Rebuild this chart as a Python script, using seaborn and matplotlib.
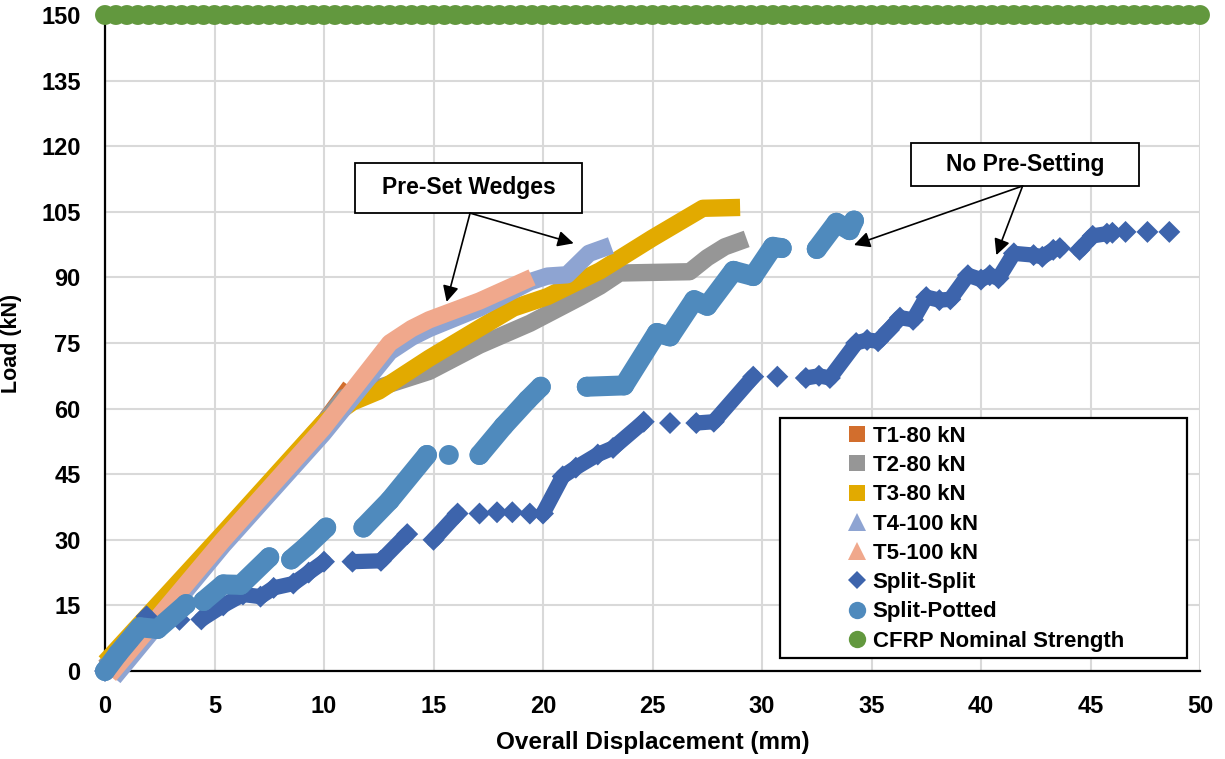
import numpy as np
import pandas as pd
import seaborn as sns
import matplotlib
matplotlib.use("Agg")
import matplotlib.pyplot as plt
from matplotlib.lines import Line2D
from matplotlib.patches import Rectangle

# ---------------- data ----------------
t1_x = [0, 5.4, 9.95, 11.2]
t1_y = [1, 31, 56.5, 65]

t2_x = [0, 5.4, 9.95, 10.9, 12, 14.8, 17.1, 19.4, 21.7, 22.6, 23.5, 26.7, 27.5, 28.3, 29.3]
t2_y = [1, 31, 56.5, 62.5, 64, 68.5, 74.5, 79.5, 85.5, 88, 91, 91.3, 94.5, 97, 98.8]

t3_x = [0, 5.4, 9.95, 11.3, 12.5, 14.8, 17.1, 18.65, 20.2, 22.6, 25, 27.3, 29]
t3_y = [2, 31.5, 56.7, 61.5, 64, 71.5, 78.4, 83, 85.6, 91.5, 99, 105.8, 106]

t4_x = [0.4, 5.4, 9.95, 13, 14, 14.8, 17.1, 19.4, 20.2, 21.1, 22.1, 23.1]
t4_y = [-1.5, 28.8, 54.2, 73, 76.3, 78.3, 83, 89, 90.3, 90.6, 95.5, 97.3]

t5_x = [0.2, 5.4, 9.95, 13, 14, 14.8, 17.1, 19.5]
t5_y = [-1, 30, 55.5, 75, 78.3, 80.3, 84.6, 90]

# Split-Split: segment id groups dense runs of diamonds
ss_seg = [0, 0, 0, 1, 2, 2, 2, 2, 2, 2, 2, 2, 3, 3, 3, 4, 4, 5, 6, 7, 8,
          9, 9, 9, 9, 9, 9, 10, 11, 11, 11, 12,
          13, 13, 13, 13, 13, 13, 13, 13, 13, 13, 13, 13, 13, 13, 13, 13, 13, 13, 13, 13, 13,
          14, 14, 14, 14, 15, 16, 17]
ss_x = [0, 1, 1.9, 3.4, 4.4, 5.4, 6.3, 7.1, 7.7, 8.6, 9.3, 10, 11.3, 12.6, 13.8, 15, 16.1,
        17.1, 17.9, 18.6, 19.4,
        20, 20.9, 21.5, 22.5, 23.2, 24.6, 25.8, 27, 27.8, 29.6, 30.7,
        32, 32.6, 33.1, 34.3, 34.8, 35.3, 35.8, 36.3, 36.9, 37.5, 38.1, 38.6, 39.4, 40, 40.4,
        40.8, 41.5, 42.4, 42.8, 43.3, 43.6,
        44.5, 45.1, 45.75, 46, 46.6, 47.6, 48.6]
ss_y = [0, 6, 12.5, 11.7, 11.8, 15, 17.5, 17, 19, 20, 22.5, 25, 25, 25.2, 31.3, 30, 36,
        36, 36.3, 36.3, 36,
        36, 44.5, 46.5, 49.5, 51, 57, 56.7, 56.7, 57, 67.3, 67.3,
        67, 67.5, 67, 75, 75.7, 75.4, 78, 80.8, 80.3, 85.5, 84.8, 85, 90.5, 89.5, 90.5,
        89.8, 95.5, 95.1, 94.7, 96.3, 96.7,
        96.3, 99.5, 100, 100.2, 100.4, 100.4, 100.4]

# Split-Potted
sp_seg = [0, 0, 0, 0, 0, 1, 1, 1, 1, 2, 2, 2, 3, 3, 3, 4, 5, 5, 5, 5,
          6, 6, 6, 6, 6, 6, 6, 6, 6, 6, 7, 7, 7, 7]
sp_x = [0, 0.6, 1.6, 2.4, 3.7, 4.5, 5.4, 6.2, 7.5, 8.5, 9.2, 10.1, 11.8, 13, 14.7, 15.7,
        17.1, 18.2, 19.3, 19.9,
        22, 23.7, 25.2, 25.8, 26.9, 27.5, 28.7, 29.6, 30.5, 30.9,
        32.5, 33.4, 34, 34.2]
sp_y = [0, 4, 10, 9.6, 15.3, 16, 19.8, 19.7, 26, 25.5, 28.5, 32.8, 32.8, 39, 49.4, 49.4,
        49.4, 56, 62, 65,
        65, 65.3, 77.3, 76.5, 84.8, 83.5, 91.5, 90.3, 97, 96.7,
        96.5, 102.5, 100.8, 103]

cfrp_x = [0, 0.5, 1, 1.5, 2, 2.5, 3, 3.5, 4, 4.5, 5, 5.5, 6, 6.5, 7, 7.5, 8, 8.5, 9, 9.5,
          10, 10.5, 11, 11.5, 12, 12.5, 13, 13.5, 14, 14.5, 15, 15.5, 16, 16.5, 17, 17.5,
          18, 18.5, 19, 19.5, 20, 20.5, 21, 21.5, 22, 22.5, 23, 23.5, 24, 24.5, 25, 25.5,
          26, 26.5, 27, 27.5, 28, 28.5, 29, 29.5, 30, 30.5, 31, 31.5, 32, 32.5, 33, 33.5,
          34, 34.5, 35, 35.5, 36, 36.5, 37, 37.5, 38, 38.5, 39, 39.5, 40, 40.5, 41, 41.5,
          42, 42.5, 43, 43.5, 44, 44.5, 45, 45.5, 46, 46.5, 47, 47.5, 48, 48.5, 49, 49.5, 50]
cfrp_y = [150] * len(cfrp_x)

x_ticks = [0, 5, 10, 15, 20, 25, 30, 35, 40, 45, 50]
y_ticks = [0, 15, 30, 45, 60, 75, 90, 105, 120, 135, 150]

labels = ["T1-80 kN", "T2-80 kN", "T3-80 kN", "T4-100 kN", "T5-100 kN",
          "Split-Split", "Split-Potted", "CFRP Nominal Strength"]
colors = ["#D26E2D", "#969696", "#E2AA00", "#8EA4D2", "#F0A88C",
          "#3D64AC", "#4F8ABD", "#62983E"]

# ---------------- style ----------------
sns.set_theme(style="white")
plt.rcParams["font.family"] = ["Liberation Sans", "DejaVu Sans"]
plt.rcParams["font.weight"] = "bold"
for k in ["text.color", "axes.labelcolor", "xtick.color", "ytick.color"]:
    plt.rcParams[k] = "black"
FS = 16

fig = plt.figure(figsize=(12.25, 7.59), dpi=100)
W, H = 1225, 759
ax = fig.add_axes([105 / W, 1 - 671 / H, 1095 / W, 656 / H])

ax.set_xlim(0, 50)
ax.set_ylim(0, 150)
ax.set_xticks(x_ticks)
ax.set_yticks(y_ticks)
ax.grid(True, color="#D9D9D9", linewidth=1.5, zorder=0)
ax.set_axisbelow(True)
for s in ["top", "right"]:
    ax.spines[s].set_visible(False)
for s in ["left", "bottom"]:
    ax.spines[s].set_color("black")
    ax.spines[s].set_linewidth(1.6)
    ax.spines[s].set_zorder(2)
ax.tick_params(axis="both", direction="inout", length=11, width=1.6, color="black",
               labelcolor="black", labelsize=17)
ax.tick_params(axis="x", pad=12)
ax.tick_params(axis="y", pad=12)
for lab in ax.get_xticklabels() + ax.get_yticklabels():
    lab.set_fontweight("bold")

# ---------------- T series (dense bands of markers) ----------------
t_series = [(t1_x, t1_y), (t2_x, t2_y), (t3_x, t3_y), (t4_x, t4_y), (t5_x, t5_y)]
for i, (xs, ys) in enumerate(t_series):
    df = pd.DataFrame({"x": xs, "y": ys})
    sns.lineplot(data=df, x="x", y="y", ax=ax, sort=False, estimator=None,
                 color=colors[i], linewidth=12.5, solid_capstyle="butt",
                 solid_joinstyle="round", zorder=3 + i * 0.1, clip_on=False,
                 legend=False)

# ---------------- Split-Split ----------------
df_ss = pd.DataFrame({"x": ss_x, "y": ss_y, "seg": ss_seg})
sns.lineplot(data=df_ss, x="x", y="y", units="seg", estimator=None, sort=False, ax=ax,
             color=colors[5], linewidth=11, solid_capstyle="round", zorder=3.6,
             clip_on=False, legend=False)
sns.scatterplot(data=df_ss, x="x", y="y", ax=ax, marker="D", s=125, color=colors[5],
                edgecolor="none", linewidth=0, zorder=3.61, clip_on=False, legend=False)

# ---------------- Split-Potted ----------------
df_sp = pd.DataFrame({"x": sp_x, "y": sp_y, "seg": sp_seg})
sns.lineplot(data=df_sp, x="x", y="y", units="seg", estimator=None, sort=False, ax=ax,
             color=colors[6], linewidth=14.4, solid_capstyle="round", zorder=3.7,
             clip_on=False, legend=False)
sns.scatterplot(data=df_sp, x="x", y="y", ax=ax, marker="o", s=205, color=colors[6],
                edgecolor="none", linewidth=0, zorder=3.71, clip_on=False, legend=False)

# ---------------- CFRP nominal strength ----------------
df_c = pd.DataFrame({"x": cfrp_x, "y": cfrp_y})
sns.scatterplot(data=df_c, x="x", y="y", ax=ax, marker="o", s=205, color=colors[7],
                edgecolor="none", linewidth=0, zorder=3.8, clip_on=False, legend=False)

ax.set_xlabel("Overall Displacement (mm)", fontsize=17.5, fontweight="bold", labelpad=9)
ax.set_ylabel("Load (kN)", fontsize=15.5, fontweight="bold", labelpad=14)

# ---------------- annotations ----------------
def note_box(x0, x1, y0, y1, text):
    ax.add_patch(Rectangle((x0, y0), x1 - x0, y1 - y0, facecolor="white",
                           edgecolor="black", linewidth=1.3, zorder=6))
    ax.text((x0 + x1) / 2, (y0 + y1) / 2, text, ha="center", va="center",
            fontsize=16.5, fontweight="bold", zorder=7)

def arrow(start, tip):
    ax.annotate("", xy=tip, xytext=start, zorder=7,
                arrowprops=dict(arrowstyle="-|>", color="black", lw=1.2,
                                mutation_scale=24, shrinkA=0, shrinkB=0))

note_box(11.4, 21.8, 104.7, 116.2, "Pre-Set Wedges")
arrow((16.67, 104.7), (15.6, 84.4))
arrow((16.67, 104.7), (21.4, 97.8))

note_box(36.8, 47.2, 110.9, 120.7, "No Pre-Setting")
arrow((41.9, 110.9), (34.2, 97.4))
arrow((41.9, 110.9), (40.7, 95.1))

# ---------------- legend ----------------
ax.add_patch(Rectangle(((780 - 105) / 1095, (671 - 658) / 656), (1187 - 780) / 1095,
                       (658 - 418) / 656, transform=ax.transAxes, facecolor="white",
                       edgecolor="black", linewidth=1.6, zorder=8, clip_on=False))
markers = ["s", "s", "s", "^", "^", "D", "o", "o"]
msizes = [12, 12, 12, 13, 13, 9, 12.5, 12.5]
handles = [Line2D([], [], linestyle="None", marker=m, markersize=ms, color=c,
                  markeredgewidth=0)
           for m, ms, c in zip(markers, msizes, colors)]
leg = ax.legend(handles, labels, loc="upper left",
                bbox_to_anchor=(847 / W, 1 - 426 / H), bbox_transform=fig.transFigure,
                frameon=False, fontsize=FS, handlelength=0.9, handletextpad=0.25,
                labelspacing=0.37, borderpad=0, borderaxespad=0)
for t in leg.get_texts():
    t.set_fontweight("bold")
    t.set_color("black")
leg.set_zorder(9)

fig.savefig("out.png", dpi=100)
